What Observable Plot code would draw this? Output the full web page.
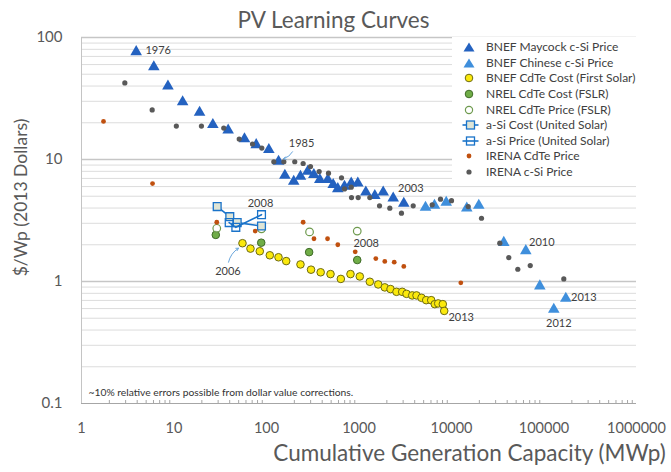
<!DOCTYPE html>
<html><head><meta charset="utf-8">
<script src="https://cdn.jsdelivr.net/npm/d3@7"></script>
<script src="https://cdn.jsdelivr.net/npm/@observablehq/plot@0.6"></script>
<style>
body{margin:0;background:#fff;font-family:Lato,"Open Sans",sans-serif;}
#wrap{position:relative;width:671px;height:472px;overflow:hidden;}
#legend{position:absolute;left:452px;top:37px;width:190px;height:146px;background:#fff;}
.row{position:absolute;left:0;height:16px;line-height:16px;font-size:12px;color:#404040;white-space:nowrap;}
.row svg{position:absolute;left:0;top:0;}
.row span{position:absolute;left:34px;top:0;}
</style></head>
<body><div id="wrap"></div>
<script>
// ---------- data (cumulative MWp, $/Wp 2013) ----------
const maycockCap = [3.9, 6.05, 8.6, 12.4, 18.9, 26.3, 38.5, 57.8, 77.4, 106, 135, 158, 197, 233, 279, 325, 377, 460, 526, 590, 697, 824, 971, 1185, 1482, 1827, 2343, 3050];
const maycockPrice = [78.7, 59.2, 41.1, 30.5, 25.1, 19.9, 17.9, 15.2, 13.6, 12.4, 9.95, 7.63, 6.81, 7.49, 8.23, 7.73, 7.03, 7.03, 6.40, 5.93, 6.20, 6.60, 6.60, 5.56, 5.20, 5.56, 4.97, 4.49];

const chineseCap = [5236, 6547, 8770, 14630, 19730, 36750, 63560, 90150, 127600, 172100];
const chinesePrice = [4.17, 4.33, 4.58, 4.11, 4.33, 2.15, 1.84, 0.946, 0.608, 0.748];

const firstSolarCap = [55, 67.1, 84.6, 108.6, 134.8, 163.3, 233, 303, 385, 492, 636, 809, 1020, 1309, 1614, 1900, 2192, 2543, 2931, 3264, 3760, 4186, 4742, 5327, 6034, 6598, 7181, 8054, 8340];
const firstSolarCost = [2.06, 1.86, 1.77, 1.64, 1.58, 1.47, 1.38, 1.25, 1.19, 1.15, 1.05, 1.15, 1.10, 0.995, 0.946, 0.895, 0.867, 0.823, 0.823, 0.792, 0.769, 0.769, 0.735, 0.703, 0.703, 0.652, 0.661, 0.652, 0.574];

const nrelCostCap = [28.3, 87.7, 289, 957];
const nrelCost = [2.41, 2.08, 1.74, 1.50];
const nrelPriceCap = [29, 88.3, 292, 957];
const nrelPrice = [2.73, 2.70, 2.55, 2.59];

const aSiCostCap = [29.3, 40.1, 48.2, 88.3];
const aSiCost = [4.11, 3.40, 3.04, 2.85];
const aSiPriceCap = [39.5, 46.6, 88.3];
const aSiPrice = [3.04, 2.78, 3.53];

const irenaCdTeCap = [1.73, 5.86, 29, 75.5, 249, 326, 457, 590, 910, 1520, 1900, 2403, 3050, 12610];
const irenaCdTePrice = [20.5, 6.35, 3.06, 2.59, 3.06, 2.24, 2.24, 2.00, 1.75, 1.54, 1.46, 1.44, 1.33, 0.976];

const irenaCSiCap = [2.94, 5.81, 10.6, 19.8, 34.5, 50.7, 70.6, 89, 120, 154, 202, 249, 299, 371, 468, 647, 697, 824, 830, 980, 1309, 1667, 2153, 2878, 3855, 6185, 7603, 10000, 15160, 21100, 33270, 41620, 52100, 71000, 163700];
const irenaCSiPrice = [42.4, 25.5, 18.8, 18.8, 18.1, 14.7, 13.4, 12.4, 9.58, 9.58, 9.58, 9.27, 8.76, 7.97, 7.73, 7.07, 5.74, 5.93, 4.87, 4.87, 4.87, 4.17, 3.99, 3.63, 4.17, 4.25, 4.73, 4.60, 4.11, 3.30, 2.06, 1.57, 1.26, 1.35, 1.05];

const xTicks = [1, 10, 100, 1000, 10000, 100000, 1000000];
const yTicks = [0.1, 1, 10, 100];

const seriesNames = ["BNEF Maycock c-Si Price", "BNEF Chinese c-Si Price", "BNEF CdTe Cost (First Solar)", "NREL CdTe Cost (FSLR)", "NREL CdTe Price (FSLR)", "a-Si Cost (United Solar)", "a-Si Price (United Solar)", "IRENA CdTe Price", "IRENA c-Si Price"];

// ---------- layout ----------
const W = 671, H = 472, mT = 37, mR = 35, mB = 69, mL = 81;
const kx = (W - mL - mR) / 6, ky = (H - mT - mB) / 3;
const shX = (v, px) => v * 10 ** (px / kx);
const shY = (v, px) => v * 10 ** (-px / ky);

const zip = (xs, ys) => xs.map((x, i) => ({x, y: ys[i]}));
const maycock = zip(maycockCap, maycockPrice);
const chinese = zip(chineseCap, chinesePrice);
const firstSolar = zip(firstSolarCap, firstSolarCost);
const nrelC = zip(nrelCostCap, nrelCost);
const nrelP = zip(nrelPriceCap, nrelPrice);
const aSiC = zip(aSiCostCap, aSiCost);
const aSiP = zip(aSiPriceCap, aSiPrice);
const irenaCdTe = zip(irenaCdTeCap, irenaCdTePrice);
const irenaCSi = zip(irenaCSiCap, irenaCSiPrice);

// year annotations anchored on data points, offsets in px
const notes = [
  {text: "1976", p: maycock[0], dx: 22, dy: 0},
  {text: "1985", p: maycock[10], dx: 23, dy: -16},
  {text: "2003", p: maycock[27], dx: 7, dy: -13},
  {text: "2008", p: aSiP[2], dx: -1, dy: -11},
  {text: "2006", p: firstSolar[0], dx: -14.5, dy: 28},
  {text: "2008", p: nrelP[3], dx: 9, dy: 12},
  {text: "2013", p: firstSolar[28], dx: 17, dy: 7},
  {text: "2010", p: chinese[6], dx: 16, dy: -7},
  {text: "2013", p: chinese[9], dx: 18, dy: 1},
  {text: "2012", p: chinese[8], dx: 5, dy: 16}
];
const arrows = [
  {p: maycock[10], s: [14, -8], e: [5, -1]},
  {p: firstSolar[0], s: [-14, 19], e: [-4, 5]}
].map(a => ({x1: shX(a.p.x, a.s[0]), y1: shY(a.p.y, a.s[1]), x2: shX(a.p.x, a.e[0]), y2: shY(a.p.y, a.e[1])}));

const minorVals = [];
for (let d = -1; d < 6; d++) for (let m = 2; m <= 9; m++) minorVals.push(m * 10 ** d);
const minorY = minorVals.filter(v => v > 0.1 && v < 100);
const minorX = minorVals.filter(v => v > 1 && v < 1e6);

const C = {
  maycock: "#2462c0", chinese: "#3f8fdc", yellow: "#fbe90c", yellowStroke: "#6d6a12",
  green: "#70ad47", greenStroke: "#3f6b28", greenHollow: "#6e9a4e",
  blue: "#1a73c9", aSiFill: "#dfe5d6", orange: "#c0500f", grey: "#595959"
};

const chart = Plot.plot({
  width: W, height: H, marginTop: mT, marginRight: mR, marginBottom: mB, marginLeft: mL,
  x: {type: "log", domain: [1, 1e6]},
  y: {type: "log", domain: [0.1, 100]},
  style: {fontFamily: "Lato, 'Open Sans', sans-serif", color: "#595959", background: "white", overflow: "visible"},
  marks: [
    Plot.ruleY(minorY, {stroke: "#dcdcdc", strokeWidth: 1}),
    Plot.ruleY([1, 10, 100], {stroke: "#c6c6c6", strokeWidth: 1.3}),
    Plot.ruleY([0.1], {stroke: "#a6a6a6", strokeWidth: 1}),
    Plot.ruleX([1], {stroke: "#c4c4c4", strokeWidth: 1}),
    Plot.ruleX(minorX, {stroke: "#a6a6a6", insetTop: H - mT - mB - 3}),
    Plot.axisX({ticks: xTicks, tickFormat: d => String(d), tickSize: 0, tickPadding: 19, fontSize: 14.5, label: null}),
    Plot.axisY({ticks: yTicks, tickFormat: d => String(d), tickSize: 0, tickPadding: 19, fontSize: 15, label: null}),
    // series
    Plot.dot(maycock, {x: "x", y: "y", symbol: "triangle", r: 4.3, fill: C.maycock, dy: 1.6}),
    Plot.dot(chinese, {x: "x", y: "y", symbol: "triangle", r: 4.3, fill: C.chinese, dy: 1.6}),
    Plot.dot(firstSolar, {x: "x", y: "y", r: 3.8, fill: C.yellow, stroke: C.yellowStroke, strokeWidth: 1}),
    Plot.dot(nrelC, {x: "x", y: "y", r: 3.8, fill: C.green, stroke: C.greenStroke, strokeWidth: 1}),
    Plot.dot(nrelP, {x: "x", y: "y", r: 3.8, fill: "white", fillOpacity: 0.6, stroke: C.greenHollow, strokeWidth: 1.2}),
    Plot.line(aSiC, {x: "x", y: "y", stroke: C.blue, strokeWidth: 1.6}),
    Plot.dot(aSiC, {x: "x", y: "y", symbol: "square", r: 4.4, fill: C.aSiFill, stroke: C.blue, strokeWidth: 1.3}),
    Plot.line(aSiP, {x: "x", y: "y", stroke: C.blue, strokeWidth: 1.6}),
    Plot.dot(aSiP, {x: "x", y: "y", symbol: "square", r: 4.4, fill: "none", stroke: C.blue, strokeWidth: 1.3}),
    Plot.dot(irenaCdTe, {x: "x", y: "y", r: 2.4, fill: C.orange}),
    Plot.dot(irenaCSi, {x: "x", y: "y", r: 2.6, fill: C.grey}),
    // annotations
    Plot.arrow(arrows, {x1: "x1", y1: "y1", x2: "x2", y2: "y2", bend: true, stroke: "#6aa6dc", strokeWidth: 1, headLength: 4}),
    ...notes.map(n => Plot.text([n], {x: d => d.p.x, y: d => d.p.y, text: "text", dx: n.dx, dy: n.dy, fontSize: 11, fill: "#404040"})),
    // titles
    Plot.text(["PV Learning Curves"], {frameAnchor: "top", textAnchor: "middle", lineAnchor: "middle", dx: -25.5, dy: -17, fontSize: 22.5, fill: "#595959"}),
    Plot.text(["Cumulative Generation Capacity (MWp)"], {frameAnchor: "bottom", textAnchor: "middle", lineAnchor: "middle", dx: 110.5, dy: 50, fontSize: 22.5, fill: "#595959"}),
    Plot.text(["$/Wp (2013 Dollars)"], {frameAnchor: "left", textAnchor: "middle", lineAnchor: "middle", rotate: -90, dx: -60, dy: -23, fontSize: 17.5, fill: "#595959"}),
    Plot.text(["~10% relative errors possible from dollar value corrections."], {frameAnchor: "bottom-left", textAnchor: "start", lineAnchor: "middle", dx: 7, dy: -11, fontSize: 10.3, fill: "#333333"})
  ]
});

const wrap = document.getElementById("wrap");
wrap.appendChild(chart);

// ---------- legend ----------
const legend = document.createElement("div");
legend.id = "legend";
const symbols = [
  `<polygon points="17,3.5 22.5,12.5 11.5,12.5" fill="${C.maycock}"/>`,
  `<polygon points="17,3.5 22.5,12.5 11.5,12.5" fill="${C.chinese}"/>`,
  `<circle cx="17" cy="8" r="3.8" fill="${C.yellow}" stroke="${C.yellowStroke}"/>`,
  `<circle cx="17" cy="8" r="3.8" fill="${C.green}" stroke="${C.greenStroke}"/>`,
  `<circle cx="17" cy="8" r="3.6" fill="white" stroke="${C.greenHollow}" stroke-width="1.2"/>`,
  `<line x1="10.5" x2="26.5" y1="8" y2="8" stroke="${C.blue}" stroke-width="1.6"/><rect x="14.5" y="4" width="8" height="8" fill="${C.aSiFill}" stroke="${C.blue}" stroke-width="1.3"/>`,
  `<line x1="10.5" x2="26.5" y1="8" y2="8" stroke="${C.blue}" stroke-width="1.6"/><rect x="14.5" y="4" width="8" height="8" fill="none" stroke="${C.blue}" stroke-width="1.3"/>`,
  `<circle cx="17" cy="8" r="2.4" fill="${C.orange}"/>`,
  `<circle cx="17" cy="8" r="2.6" fill="${C.grey}"/>`
];
seriesNames.forEach((name, i) => {
  const row = document.createElement("div");
  row.className = "row";
  row.style.top = (10.3 + 15.55 * i - 8) + "px";
  row.innerHTML = `<svg width="32" height="16">${symbols[i]}</svg><span>${name}</span>`;
  legend.appendChild(row);
});
wrap.appendChild(legend);
</script>
</body></html>
